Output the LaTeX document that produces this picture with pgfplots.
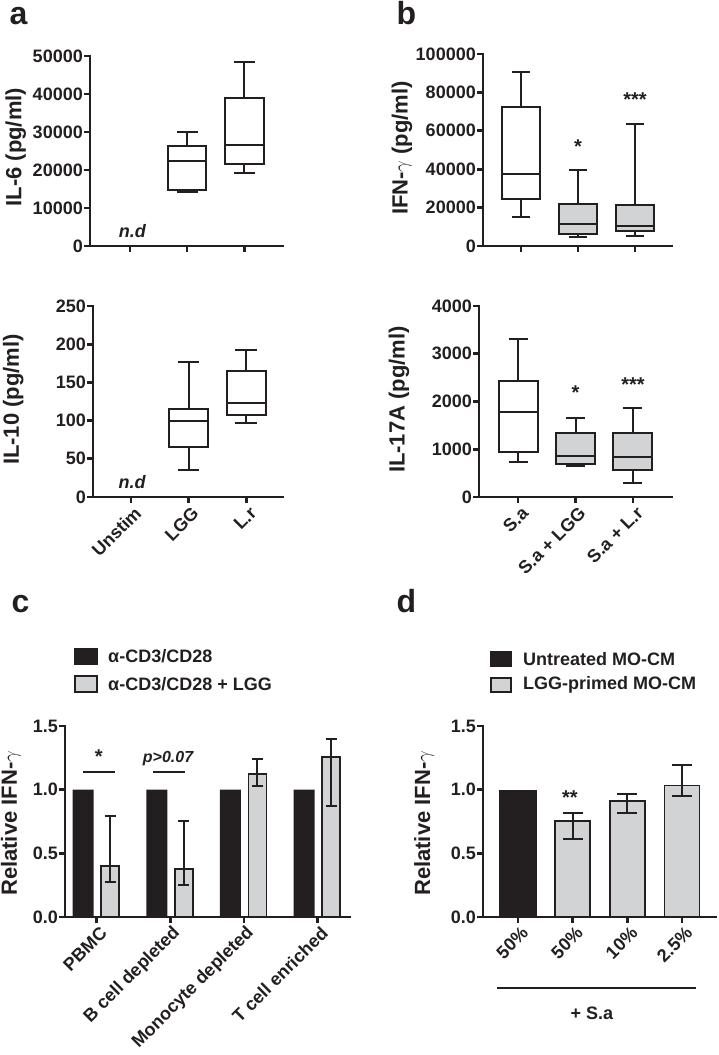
\documentclass[border=0pt]{standalone}
\usepackage{pgfplots}
\pgfplotsset{compat=1.18}
\usepgfplotslibrary{statistics}
\usepackage{fontspec}
\setmainfont{Liberation Sans}
\definecolor{lc}{HTML}{231F20}
\definecolor{lgray}{HTML}{D1D3D4}
\newcommand\fs[1]{\fontsize{#1}{#1}\selectfont\bfseries}
\pgfplotsset{
  gp/.style={
    scale only axis, clip=false, enlargelimits=false,
    axis lines*=left,
    axis line style={line width=2.8pt, color=lc, line cap=rect},
    tick align=outside, major tick length=6pt,
    tick style={line width=2.8pt, color=lc},
    tick label style={font=\fs{18}, color=lc},
    yticklabel style={inner sep=1pt},
    label style={font=\fs{22}, color=lc},
    /pgf/number format/assume math mode=true,
    scaled y ticks=false,
    yticklabel style={/pgf/number format/fixed, /pgf/number format/1000 sep={}},
    boxplot/draw direction=y,
  },
  bx/.style={draw=lc, line width=2pt, fill=#1, solid},
  rotlab/.style={xticklabel style={rotate=45, anchor=east, inner sep=0pt, yshift=-10pt}},
}
\begin{document}
\begin{tikzpicture}
% ---------- a top ----------
\begin{axis}[gp, at={(90pt,809pt)}, anchor=south west, width=193pt, height=190pt,
  xmin=-0.70, xmax=2.68, ymin=0, ymax=50000, ytick={0,10000,...,50000},
  xtick={0,1,2}, xticklabels={},
  ylabel={IL-6 (pg/ml)}, ylabel style={at={(axis description cs:-0.385,0.52)}, anchor=center}]
\addplot[bx=white, boxplot prepared={draw position=1, lower whisker=14211, lower quartile=14737, median=22368, upper quartile=26316, upper whisker=30000, box extend=0.68, whisker extend=0.37}] coordinates {};
\addplot[bx=white, boxplot prepared={draw position=2, lower whisker=19210, lower quartile=21579, median=26667, upper quartile=39035, upper whisker=48421, box extend=0.68, whisker extend=0.37}] coordinates {};
\node[font=\fontsize{18}{18}\selectfont\bfseries\itshape, text=lc] at (axis cs:0.04,3950) {n.d};
\end{axis}
% ---------- a bottom ----------
\begin{axis}[gp, rotlab, at={(93pt,558pt)}, anchor=south west, width=190pt, height=191pt,
  xmin=-0.66, xmax=2.64, ymin=0, ymax=250, ytick={0,50,...,250},
  xtick={0,1,2}, xticklabels={Unstim,LGG,L.r},
  ylabel={IL-10 (pg/ml)}, ylabel style={at={(axis description cs:-0.42,0.51)}, anchor=center}]
\addplot[bx=white, boxplot prepared={draw position=1, lower whisker=34.9, lower quartile=65.0, median=99.0, upper quartile=114.8, upper whisker=176.7, box extend=0.68, whisker extend=0.37}] coordinates {};
\addplot[bx=white, boxplot prepared={draw position=2, lower whisker=97.3, lower quartile=107.8, median=122.6, upper quartile=165.4, upper whisker=192.4, box extend=0.68, whisker extend=0.37}] coordinates {};
\node[font=\fontsize{18}{18}\selectfont\bfseries\itshape, text=lc] at (axis cs:0.02,19.6) {n.d};
\end{axis}
% ---------- b top ----------
\begin{axis}[gp, at={(483pt,809pt)}, anchor=south west, width=189pt, height=192pt,
  xmin=-0.667, xmax=2.65, ymin=0, ymax=100000, ytick={0,20000,...,100000},
  xtick={0,1,2}, xticklabels={},
  ylabel={IFN-$\gamma$ (pg/ml)}, ylabel style={at={(axis description cs:-0.429,0.51)}, anchor=center}]
\addplot[bx=white, boxplot prepared={draw position=0, lower whisker=15104, lower quartile=24479, median=37500, upper quartile=72222, upper whisker=90799, box extend=0.68, whisker extend=0.33}] coordinates {};
\addplot[bx=lgray, boxplot prepared={draw position=1, lower whisker=4688, lower quartile=6076, median=11285, upper quartile=22049, upper whisker=39757, box extend=0.68, whisker extend=0.33}] coordinates {};
\addplot[bx=lgray, boxplot prepared={draw position=2, lower whisker=5208, lower quartile=7813, median=10243, upper quartile=21181, upper whisker=63368, box extend=0.68, whisker extend=0.33}] coordinates {};
\node[font=\fs{20}, text=lc] at (axis cs:1,51562) {*};
\node[font=\fs{20}, text=lc] at (axis cs:2,76042) {***};
\end{axis}
% ---------- b bottom ----------
\begin{axis}[gp, rotlab, at={(479pt,558pt)}, anchor=south west, width=193pt, height=191pt,
  xmin=-0.68, xmax=2.68, ymin=0, ymax=4000, ytick={0,1000,...,4000},
  xtick={0,1,2}, xticklabels={S.a,S.a + LGG,S.a + L.r},
  ylabel={IL-17A (pg/ml)}, ylabel style={at={(axis description cs:-0.415,0.51)}, anchor=center}]
\addplot[bx=white, boxplot prepared={draw position=0, lower whisker=740, lower quartile=949, median=1773, upper quartile=2422, upper whisker=3316, box extend=0.68, whisker extend=0.33}] coordinates {};
\addplot[bx=lgray, boxplot prepared={draw position=1, lower whisker=649, lower quartile=691, median=866, upper quartile=1340, upper whisker=1654, box extend=0.68, whisker extend=0.33}] coordinates {};
\addplot[bx=lgray, boxplot prepared={draw position=2, lower whisker=286, lower quartile=565, median=845, upper quartile=1340, upper whisker=1864, box extend=0.68, whisker extend=0.33}] coordinates {};
\node[font=\fs{20}, text=lc] at (axis cs:1,2178) {*};
\node[font=\fs{20}, text=lc] at (axis cs:2,2346) {***};
\end{axis}
% ---------- c ----------
\begin{axis}[gp, rotlab, ybar, at={(65pt,138pt)}, anchor=south west, width=285pt, height=191pt,
  xmin=-0.43, xmax=3.44, ymin=0, ymax=1.5, ytick={0,0.5,1,1.5},
  yticklabel style={/pgf/number format/.cd, fixed, fixed zerofill, precision=1},
  xtick={0,1,2,3}, xticklabels={PBMC,B cell depleted,Monocyte depleted,T cell enriched},
  ylabel={Relative IFN-$\gamma$}, ylabel style={at={(axis description cs:-0.19,0.49)}, anchor=center}]
\addplot[bar width=21pt, bar shift=-13.5pt, fill=lc, draw=none] coordinates {(0,1) (1,1) (2,1) (3,1)};
\addplot[bar width=18pt, bar shift=13.5pt, fill=lgray, draw=lc, line width=1.8pt,
  error bars/.cd, y dir=both, y explicit, error bar style={line width=2pt, color=lc},
  error mark options={rotate=90, mark size=5.5pt, line width=2pt, color=lc}]
  table[x=x, y=y, y error plus=ep, y error minus=em] {
x y ep em
0 0.400 0.395 0.123
1 0.380 0.376 0.131
2 1.123 0.118 0.092
3 1.254 0.144 0.385
};
\draw[line width=2.8pt, lc] (axis cs:-0.19,1.139) -- (axis cs:0.245,1.139);
\draw[line width=2.8pt, lc] (axis cs:0.77,1.139) -- (axis cs:1.20,1.139);
\node[font=\fs{20}, text=lc] at (axis cs:0.03,1.257) {*};
\node[font=\fontsize{16}{16}\selectfont\bfseries\itshape, text=lc] at (axis cs:0.97,1.245) {p>0.07};
\end{axis}
% ---------- d ----------
\begin{axis}[gp, rotlab, ybar, at={(483pt,138pt)}, anchor=south west, width=233pt, height=191pt,
  xmin=-0.64, xmax=3.62, ymin=0, ymax=1.5, ytick={0,0.5,1,1.5},
  yticklabel style={/pgf/number format/.cd, fixed, fixed zerofill, precision=1},
  xtick={0,1,2,3}, xticklabels={50\%,50\%,10\%,2.5\%},
  ylabel={Relative IFN-$\gamma$}, ylabel style={at={(axis description cs:-0.253,0.49)}, anchor=center}]
\addplot[bar width=38pt, bar shift=0pt, fill=lc, draw=none] coordinates {(0,1)};
\addplot[bar width=35pt, bar shift=0pt, fill=lgray, draw=lc, line width=1.8pt,
  error bars/.cd, y dir=both, y explicit, error bar style={line width=2pt, color=lc},
  error mark options={rotate=90, mark size=10pt, line width=2pt, color=lc}]
  table[x=x, y=y, y error plus=ep, y error minus=em] {
x y ep em
1 0.757 0.057 0.147
2 0.911 0.058 0.091
3 1.032 0.162 0.082
};
\node[font=\fs{20}, text=lc] at (axis cs:0.95,0.935) {**};
\end{axis}
% ---------- panel letters ----------
\node[font=\fs{32}, text=lc, anchor=base west] at (6pt,1030pt) {a};
\node[font=\fs{32}, text=lc, anchor=base west] at (393pt,1030pt) {b};
\node[font=\fs{32}, text=lc, anchor=base west] at (8pt,442pt) {c};
\node[font=\fs{32}, text=lc, anchor=base west] at (393pt,442pt) {d};
% ---------- legends ----------
\fill[lc] (74pt,390pt) rectangle (98pt,407pt);
\draw[lc, line width=1.8pt, fill=lgray] (75pt,363pt) rectangle (97pt,379pt);
\node[font=\fs{18}, text=lc, anchor=west, inner sep=0pt] at (108pt,398.5pt) {α-CD3/CD28};
\node[font=\fs{18}, text=lc, anchor=west, inner sep=0pt] at (108pt,371pt) {α-CD3/CD28 + LGG};
\fill[lc] (490pt,388pt) rectangle (512pt,404pt);
\draw[lc, line width=1.8pt, fill=lgray] (491pt,363pt) rectangle (511pt,377pt);
\node[font=\fs{18}, text=lc, anchor=west, inner sep=0pt] at (523pt,396pt) {Untreated MO-CM};
\node[font=\fs{18}, text=lc, anchor=west, inner sep=0pt] at (523pt,370pt) {LGG-primed MO-CM};
% ---------- + S.a bracket ----------
\draw[lc, line width=2.8pt] (497pt,67pt) -- (696pt,67pt);
\node[font=\fs{18}, text=lc] at (592pt,42pt) {+ S.a};
\pgfresetboundingbox
\path[use as bounding box] (0pt,0pt) rectangle (719pt,1055pt);
\end{tikzpicture}
\end{document}
